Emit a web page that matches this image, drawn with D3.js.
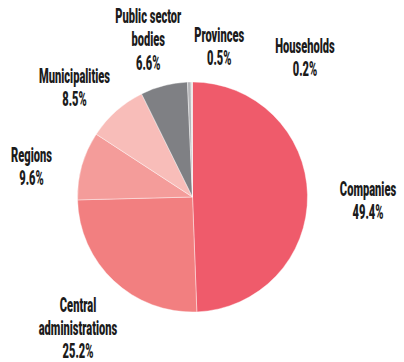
<!DOCTYPE html>
<html>
<head>
<meta charset="utf-8">
<script src="https://cdn.jsdelivr.net/npm/d3@7"></script>
<style>
  html, body { margin: 0; padding: 0; background: #fff; }
  svg { display: block; }
  .lbl { font-family: Roboto, "Liberation Sans", sans-serif; font-weight: 900; font-size: 19.5px; fill: #1b1b1b; }
</style>
</head>
<body>
<svg id="chart" width="404" height="362"></svg>
<script>
// Share of the total by sector (percent)
const categories = ["Companies", "Central administrations", "Regions", "Municipalities", "Public sector bodies", "Provinces", "Households"];
const shares = [49.4, 25.2, 9.6, 8.5, 6.6, 0.5, 0.2];
const sliceColors = ["#ef5b6b", "#f27f80", "#f49c9a", "#f8bdb9", "#7f8084", "#b5b5b8", "#dedede"];

// Label text split over lines, plus where each label block sits
const labelLines = [
  ["Companies"],
  ["Central", "administrations"],
  ["Regions"],
  ["Municipalities"],
  ["Public sector", "bodies"],
  ["Provinces"],
  ["Households"]
];
const labelAnchors = [
  [368, 195.5], [78, 312], [31.5, 161.5], [74.5, 83], [148.3, 23.3], [219.2, 41.5], [305, 53.3]
];

const W = 404, H = 362;
const cx = 192.5, cy = 197, R = 115;
const lineGap = 23.2;
const squeeze = 0.57;

const svg = d3.select("#chart");
const data = categories.map((c, i) => ({ name: c, value: shares[i], color: sliceColors[i], lines: labelLines[i], anchor: labelAnchors[i] }));

const pie = d3.pie().sort(null).value(d => d.value);
const arc = d3.arc().innerRadius(0).outerRadius(R);

const g = svg.append("g").attr("transform", `translate(${cx},${cy})`);
g.selectAll("path")
  .data(pie(data))
  .join("path")
  .attr("d", arc)
  .attr("fill", d => d.data.color)
  .attr("stroke", "#ffffff")
  .attr("stroke-width", 0.4);

const fmt = d3.format(".1f");
const labels = svg.selectAll("g.label")
  .data(data)
  .join("g")
  .attr("class", "label")
  .attr("transform", d => `translate(${d.anchor[0]},${d.anchor[1]}) scale(${squeeze},1)`);

labels.each(function(d) {
  const t = d3.select(this).append("text").attr("class", "lbl").attr("text-anchor", "middle");
  const rows = d.lines.concat([fmt(d.value) + "%"]);
  rows.forEach((row, k) => {
    t.append("tspan").attr("x", 0).attr("y", k * lineGap).text(row);
  });
});
</script>
</body>
</html>
